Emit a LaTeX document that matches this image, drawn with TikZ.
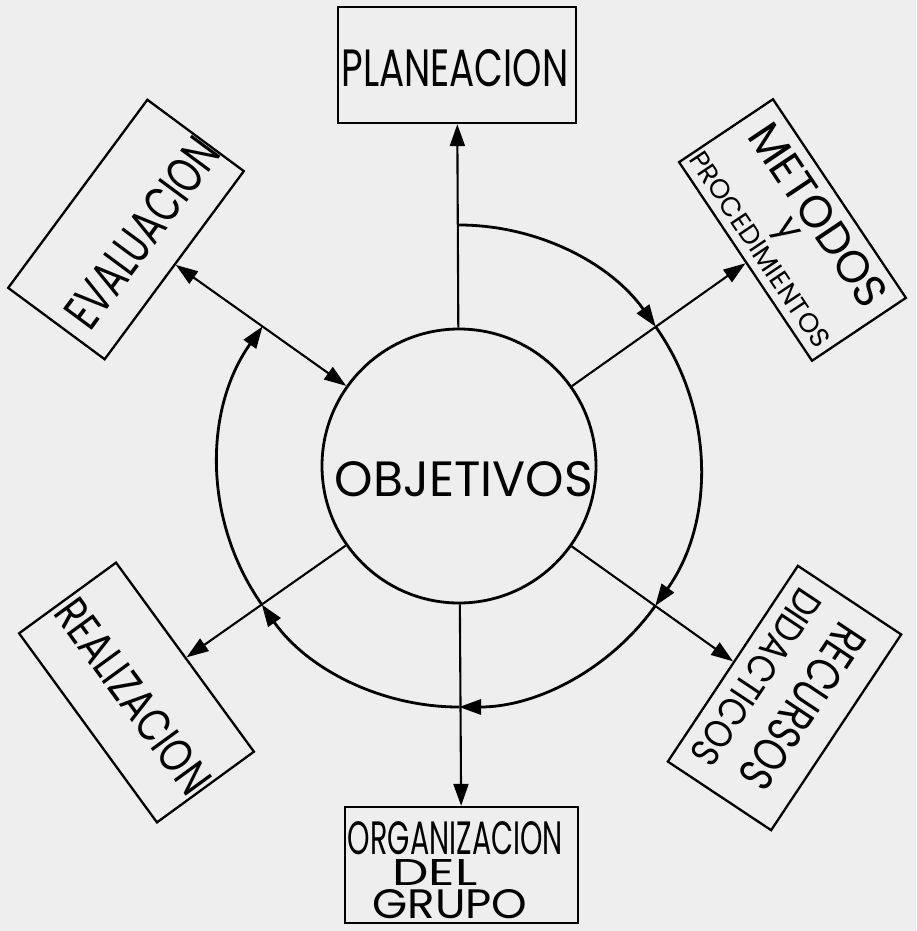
\documentclass[tikz,border=0pt]{standalone}
\usepackage{graphicx}
\usepackage{fontspec}
\setmainfont{Poppins}
\usetikzlibrary{arrows.meta}
\definecolor{paper}{HTML}{EEEEEE}
\newcommand\fitt[3]{\resizebox{#1pt}{#2pt}{#3}}
\begin{document}
\begin{tikzpicture}[x=1pt,y=1pt,
  box/.style={draw, line width=2.3pt, rectangle, inner sep=0pt},
  lbl/.style={inner sep=0pt},
  tip/.tip={Triangle[length=22pt,width=15pt]},
  spoke/.style={line width=2.1pt, -tip},
  dspoke/.style={line width=2.1pt, tip-tip},
  ring/.style={line width=2.8pt, -tip}]

\fill[paper] (0,0) rectangle (916,-931);
\useasboundingbox (0,0) rectangle (916,-931);

% centre
\coordinate (ctr) at (459,-466);
\node[circle, draw, line width=2.8pt, minimum size=274pt, inner sep=0pt] (obj) at (ctr) {};
\node[lbl] (objt) at (464,-479) {\fitt{258}{35}{OBJETIVOS}};

% top
\node[box, minimum width=238pt, minimum height=116pt] (plan) at (457,-65) {};
\node[lbl] (plant) at (455,-68) {\fitt{227}{37}{PLANEACION}};

% upper right
\begin{scope}[shift={(792.5,-230)}, rotate=-56.2, transform shape]
  \node[box, minimum width=239pt, minimum height=113pt] (met) at (0,0) {};
  \node[lbl] (mett) at (2,30) {\fitt{211}{32}{METODOS}};
  \node[lbl] (mety) at (-3,-8) {\fontsize{36}{36}\selectfont y};
  \node[lbl] (metp) at (-2,-38) {\fitt{230}{19}{PROCEDIMIENTOS}};
\end{scope}

% lower right
\begin{scope}[shift={(784.5,-698)}, rotate=-123.6, transform shape]
  \node[box, minimum width=235pt, minimum height=124pt] (rec) at (0,0) {};
  \node[lbl] (rect) at (-3,20) {\fitt{187}{34}{RECURSOS}};
  \node[lbl] (recd) at (-2,-35) {\fitt{202}{28}{DIDACTICOS}};
\end{scope}

% bottom
\node[box, minimum width=233pt, minimum height=116pt] (org) at (461.5,-865) {};
\node[lbl] (org1) at (455.5,-838.5) {\fitt{215}{33}{ORGANIZACION}};
\node[lbl] (org2) at (435,-872) {\fitt{85}{26}{DEL}};
\node[lbl] (org3) at (450,-904) {\fitt{155}{29}{GRUPO}};

% lower left
\begin{scope}[shift={(136.5,-692.5)}, rotate=-53.9, transform shape]
  \node[box, minimum width=234pt, minimum height=120pt] (rea) at (0,0) {};
  \node[lbl] (reat) at (1,-5) {\fitt{229}{33}{REALIZACION}};
\end{scope}

% upper left
\begin{scope}[shift={(126,-229.5)}, rotate=53.5, transform shape]
  \node[box, minimum width=234pt, minimum height=120pt] (eva) at (0,0) {};
  \node[lbl] (evat) at (7,-15) {\fitt{222}{36}{EVALUACION}};
\end{scope}

% spokes
\draw[spoke] (obj) -- (plan);
\draw[spoke] (obj) -- (met);
\draw[spoke] (obj) -- (rec);
\draw[spoke] (obj) -- (org);
\draw[spoke] (obj) -- (rea);
\draw[dspoke] (eva) -- (obj);

% outer ring segments
\draw[ring] ([shift={(90:241)}]ctr) arc[start angle=90, end angle=35.3, radius=241];
\draw[ring] ([shift={(35.3:241)}]ctr) arc[start angle=35.3, end angle=-35.5, radius=241];
\draw[ring] ([shift={(-35.5:241)}]ctr) arc[start angle=-35.5, end angle=-90, radius=241];
\draw[ring] ([shift={(-90:241)}]ctr) arc[start angle=-90, end angle=-144.9, radius=241];
\draw[ring] ([shift={(-144.9:241)}]ctr) arc[start angle=-144.9, end angle=-215.4, radius=241];
\end{tikzpicture}
\end{document}
